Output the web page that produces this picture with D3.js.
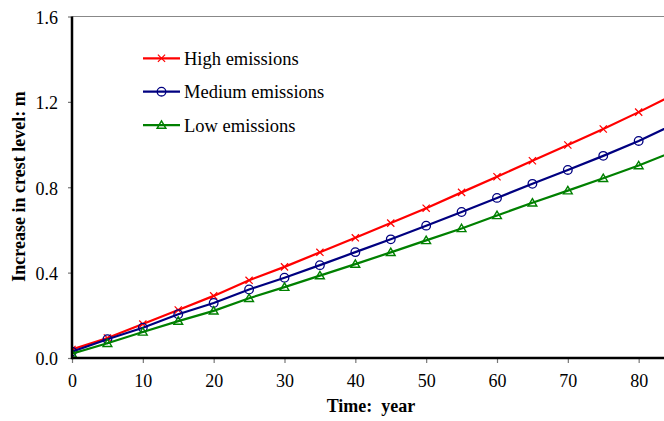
<!DOCTYPE html>
<html>
<head>
<meta charset="utf-8">
<script src="https://cdn.jsdelivr.net/npm/d3@7"></script>
<style>
body { margin: 0; background: #fff; }
</style>
</head>
<body>
<script>
var w = 664
var h = 421
var font = "'Liberation Serif'"

// values, every 5 years
var years = [0, 5, 10, 15, 20, 25, 30, 35, 40, 45, 50, 55, 60, 65, 70, 75, 80, 85]
var high = [0.04, 0.094, 0.159, 0.225, 0.291, 0.364, 0.427, 0.495, 0.563, 0.632, 0.702, 0.776, 0.849, 0.924, 0.998, 1.073, 1.152, 1.235]
var medium = [0.03, 0.088, 0.142, 0.205, 0.258, 0.321, 0.376, 0.435, 0.496, 0.556, 0.62, 0.684, 0.75, 0.816, 0.881, 0.947, 1.017, 1.095]
var low = [0.02, 0.069, 0.122, 0.173, 0.221, 0.28, 0.332, 0.386, 0.44, 0.495, 0.551, 0.607, 0.668, 0.727, 0.784, 0.842, 0.902, 0.968]
var seriesNames = ["High emissions", "Medium emissions", "Low emissions"]
var xTicks = [0, 10, 20, 30, 40, 50, 60, 70, 80]
var yTicks = [0, 0.4, 0.8, 1.2, 1.6]

var colors = ["#ff0000", "#000080", "#008000"]
var shapes = ["cross", "circle", "triangle"]
var series = [high, medium, low]

var x = d3.scaleLinear().domain([0, 84]).range([72, 667])
var y = d3.scaleLinear().domain([0, 1.6]).range([358, 16.5])

var svg = d3.select("body")
    .append("svg")
    .attr("width", w)
    .attr("height", h)
    .style("font-family", font)

svg.append("defs").append("clipPath")
    .attr("id", "plot")
    .append("rect")
    .attr("x", 72).attr("y", 10)
    .attr("width", w - 72).attr("height", 360)

// top border
svg.append("line")
    .attr("x1", 72).attr("x2", w)
    .attr("y1", y(1.6)).attr("y2", y(1.6))
    .attr("stroke", "#888").attr("stroke-width", 1.2)

function drawMarker(g, shape, color) {
    if (shape == "cross") {
        g.append("path").attr("d", "M-3.6,-3.6L3.6,3.6M-3.6,3.6L3.6,-3.6")
            .attr("stroke", color).attr("stroke-width", 1.2).attr("fill", "none")
    } else if (shape == "circle") {
        g.append("circle").attr("r", 4.3)
            .attr("stroke", color).attr("stroke-width", 1.3).attr("fill", "none")
    } else {
        g.append("path").attr("d", "M0,-4.2L4.4,3.2L-4.4,3.2Z")
            .attr("stroke", color).attr("stroke-width", 1.4).attr("fill", "none")
    }
}

var line = d3.line()
    .x(function (d, i) { return x(years[i]) })
    .y(function (d) { return y(d) })

var plot = svg.append("g").attr("clip-path", "url(#plot)")

series.forEach(function (vals, s) {
    plot.append("path")
        .datum(vals)
        .attr("d", line)
        .attr("fill", "none")
        .attr("stroke", colors[s])
        .attr("stroke-width", 2.2)
    plot.selectAll(".m" + s)
        .data(vals)
        .enter()
        .append("g")
        .attr("class", "m" + s)
        .attr("transform", function (d, i) { return "translate(" + x(years[i]) + "," + y(d) + ")" })
        .each(function () { drawMarker(d3.select(this), shapes[s], colors[s]) })
})

// axes
var xAxis = svg.append("g")
    .attr("transform", "translate(0," + y(0) + ")")
    .call(d3.axisBottom(x).tickValues(xTicks).tickFormat(d3.format("d")).tickSize(5).tickPadding(11))
xAxis.attr("font-family", null).attr("font-size", null)
xAxis.select(".domain").remove()
xAxis.selectAll(".tick line").attr("stroke", "#777").attr("stroke-width", 1.2)
xAxis.selectAll("text").style("font-family", font).style("font-size", "18px").attr("fill", "#000")

var yAxis = svg.append("g")
    .attr("transform", "translate(72,0)")
    .call(d3.axisLeft(y).tickValues(yTicks).tickFormat(d3.format(".1f")).tickSize(4).tickPadding(10))
yAxis.attr("font-family", null).attr("font-size", null)
yAxis.select(".domain").remove()
yAxis.selectAll(".tick line").attr("stroke", "#777").attr("stroke-width", 1.2)
yAxis.selectAll("text").style("font-family", font).style("font-size", "18px").attr("fill", "#000").attr("dy", "0.38em")

svg.append("line")
    .attr("x1", 72).attr("x2", w)
    .attr("y1", y(0)).attr("y2", y(0))
    .attr("stroke", "#000").attr("stroke-width", 2.5)
svg.append("line")
    .attr("x1", 72).attr("x2", 72)
    .attr("y1", y(1.6)).attr("y2", y(0) + 1.2)
    .attr("stroke", "#000").attr("stroke-width", 2.5)

// titles
svg.append("text")
    .attr("x", 371).attr("y", 412)
    .attr("text-anchor", "middle")
    .style("font-family", font)
    .style("font-size", "18px").style("font-weight", "bold")
    .style("white-space", "pre")
    .text("Time:  year")

svg.append("text")
    .attr("transform", "translate(25,186.5) rotate(-90)")
    .attr("text-anchor", "middle")
    .style("font-family", font)
    .style("font-size", "18px").style("font-weight", "bold")
    .text("Increase in crest level: m")

// legend
var legend = svg.selectAll(".legend")
    .data(seriesNames)
    .enter()
    .append("g")
    .attr("class", "legend")
    .attr("transform", function (d, i) { return "translate(143," + (58.3 + i * 33.4) + ")" })

legend.append("line")
    .attr("x1", 0).attr("x2", 37)
    .attr("stroke", function (d, i) { return colors[i] })
    .attr("stroke-width", 2.2)
legend.each(function (d, i) {
    var g = d3.select(this).append("g").attr("transform", "translate(18.5,0)")
    drawMarker(g, shapes[i], colors[i])
})
legend.append("text")
    .attr("x", 41).attr("y", 6.7)
    .style("font-family", font)
    .style("font-size", "18.5px")
    .text(function (d) { return d })
</script>
</body>
</html>
